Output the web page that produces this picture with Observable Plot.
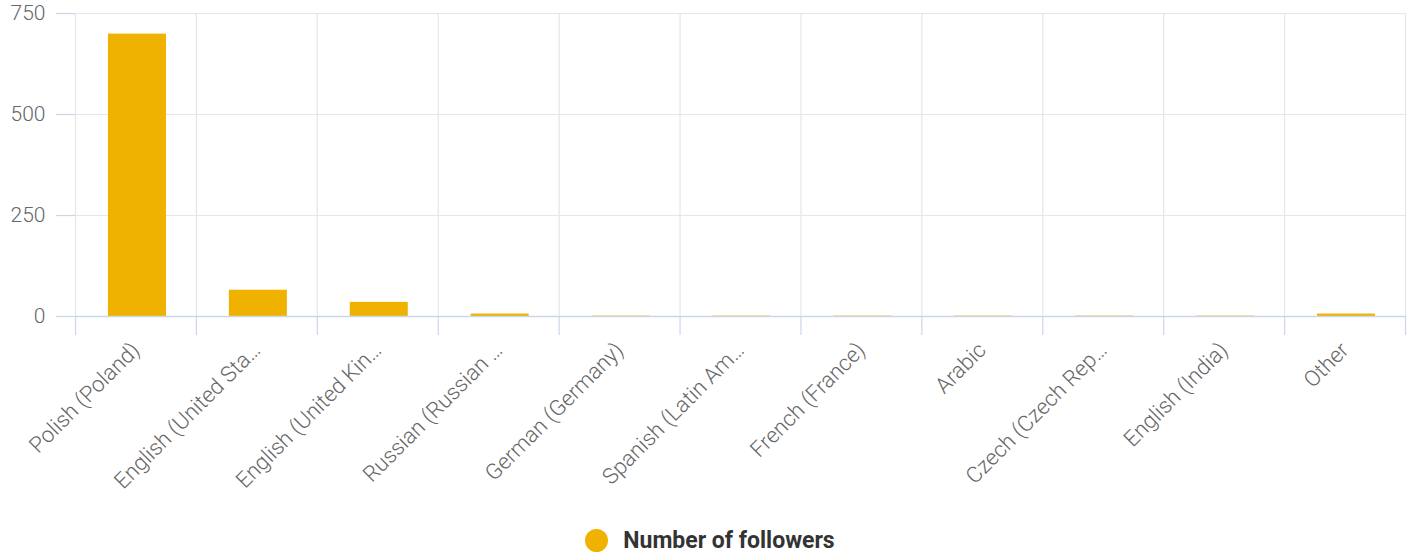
<!DOCTYPE html>
<html><head><meta charset="utf-8">
<script src="https://cdn.jsdelivr.net/npm/d3@7"></script>
<script src="https://cdn.jsdelivr.net/npm/@observablehq/plot@0.6"></script>
<style>
html,body{margin:0;padding:0;background:#fff;font-family:Roboto,sans-serif;overflow:hidden;}
#legend{display:flex;justify-content:center;align-items:center;height:44px;margin-top:18px;padding-left:8px;}
#legend .dot{width:23px;height:23px;border-radius:50%;margin-right:15px;}
#legend .lbl{font-family:Roboto,sans-serif;font-weight:700;font-size:23px;color:#333;}
</style></head>
<body>
<div id="chart"></div>
<div id="legend"></div>
<script>
const categories = ["Polish (Poland)", "English (United Sta…", "English (United Kin…", "Russian (Russian …", "German (Germany)", "Spanish (Latin Am…", "French (France)", "Arabic", "Czech (Czech Rep…", "English (India)", "Other"];
const followers = [699, 65, 35, 6, 1, 1, 1, 1, 1, 1, 6];
const yTicks = [0, 250, 500, 750];
const seriesName = "Number of followers";
const barColor = "#f0b200";

const W = 1412, H = 500, mL = 75, mR = 7, mT = 13, mB = 184;
const step = (W - mL - mR) / categories.length;
const data = categories.map((c, i) => ({category: c, value: followers[i]}));
const gridColor = "#e6e6e6", axisColor = "#ccd6eb";

const plot = Plot.plot({
  width: W, height: H, marginLeft: mL, marginRight: mR, marginTop: mT, marginBottom: mB,
  style: {fontFamily: "Roboto, sans-serif", fontWeight: 300, background: "#fff", overflow: "visible"},
  x: {domain: categories, paddingInner: 0.52, paddingOuter: 0.26, align: 0.5, round: false, label: null},
  y: {domain: [0, 750], label: null},
  marks: [
    Plot.gridY({ticks: yTicks.filter(t => t > 0), stroke: gridColor, strokeOpacity: 1, strokeWidth: 1.2}),
    Plot.gridX({dx: -step / 2, stroke: gridColor, strokeOpacity: 1, strokeWidth: 1.2}),
    Plot.gridX([categories[categories.length - 1]], {dx: step / 2, stroke: gridColor, strokeOpacity: 1, strokeWidth: 1.2}),
    Plot.barY(data, {x: "category", y: "value", dx: 1.5, fill: barColor}),
    Plot.ruleY([0], {stroke: axisColor, strokeWidth: 1.5}),
    Plot.axisX({tickSize: 19, dx: -step / 2, stroke: axisColor, strokeOpacity: 1, strokeWidth: 1.2, tickFormat: () => ""}),
    Plot.axisX([categories[categories.length - 1]], {tickSize: 19, dx: step / 2, stroke: axisColor, strokeOpacity: 1, strokeWidth: 1.2, tickFormat: () => ""}),
    Plot.axisX({tickSize: 0, tickRotate: -45, tickPadding: 30, fontSize: 22, fill: "#666", label: null}),
    Plot.axisY({ticks: yTicks, tickSize: 19, tickPadding: 11, stroke: axisColor, strokeOpacity: 1, strokeWidth: 1.2, fill: "#666", fontSize: 21, label: null})
  ]
});
document.getElementById("chart").appendChild(plot);

const lg = document.getElementById("legend");
lg.innerHTML = `<div class="dot" style="background:${barColor}"></div><div class="lbl">${seriesName}</div>`;
</script>
</body></html>
